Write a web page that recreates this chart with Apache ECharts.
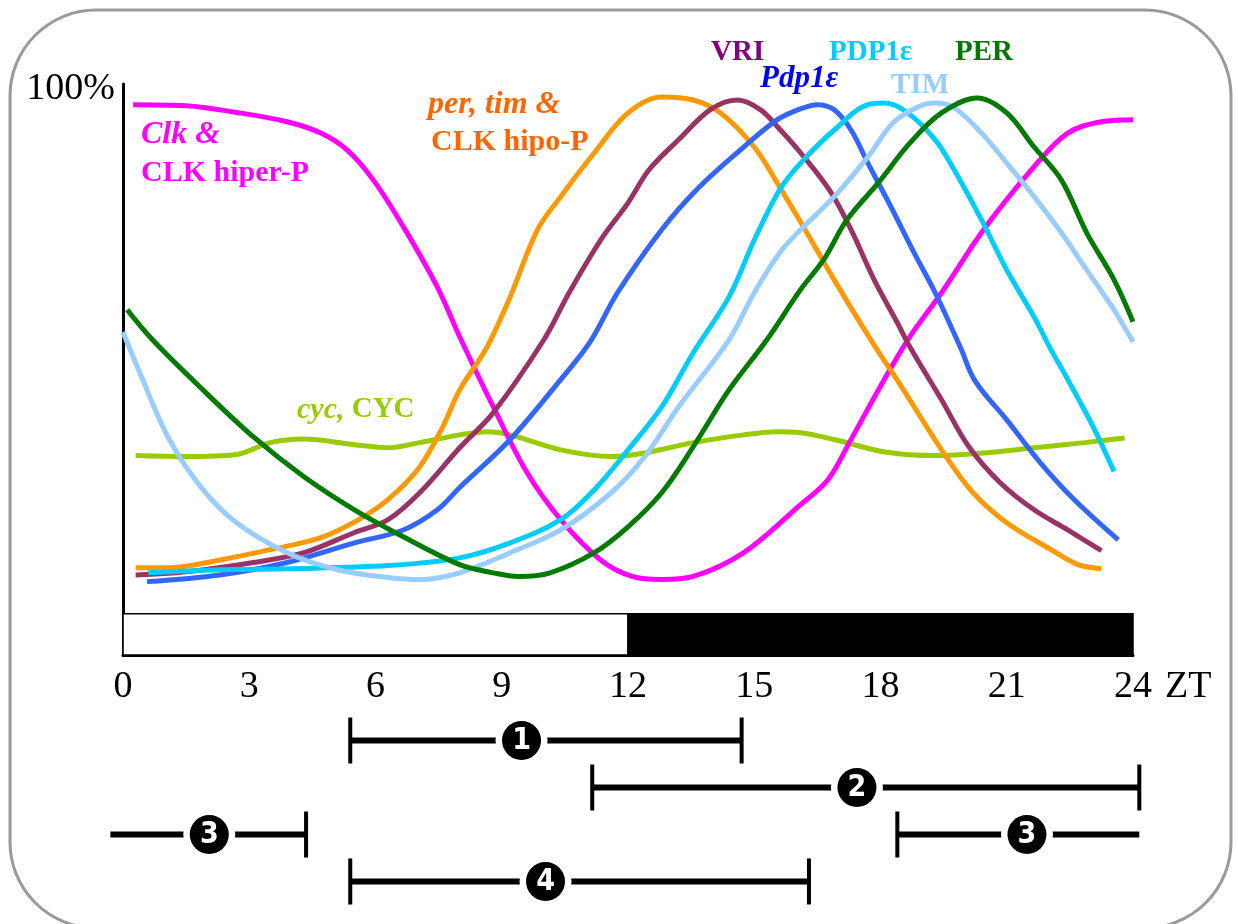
<!DOCTYPE html>
<html>
<head>
<meta charset="utf-8">
<script src="https://cdn.jsdelivr.net/npm/echarts@6/dist/echarts.min.js"></script>
<style>
  html, body { margin: 0; padding: 0; background: #fff; }
  #chart { width: 1238px; height: 924px; }
</style>
</head>
<body>
<div id="chart"></div>
<script>
// Relative levels (% of peak) over the day, [ZT hour, level]
const hourTicks = [0, 3, 6, 9, 12, 15, 18, 21, 24];
const levelTicks = [100];

const clkMrna = [[0.24,98.5],[1.5,98.3],[2.7,97.0],[3.9,95.2],[4.7,93.0],[5.33,89.7],[5.95,83.9],[6.66,74.9],[7.47,63.2],[8.0,53.6],[8.8,40.0],[9.6,27.3],[10.4,18.2],[11.35,10.4],[12.1,7.2],[12.8,6.6],[13.55,7.2],[14.75,11.8],[16.1,21.1],[16.75,25.9],[17.3,33.7],[17.95,43.3],[18.65,53.0],[19.45,62.1],[20.45,74.3],[21.65,86.5],[22.45,93.0],[23.25,95.2],[24.0,95.6]];
const perTimMrna = [[0.3,8.9],[1.1,8.9],[2.3,10.4],[3.5,12.4],[4.7,14.7],[5.6,18.2],[6.3,22.1],[7.05,28.4],[7.6,36.2],[8.0,43.3],[8.65,51.6],[9.2,61.3],[9.85,74.3],[10.4,80.7],[11.2,89.2],[12.0,96.9],[12.8,100],[13.55,99.4],[14.2,96.9],[15.0,90.3],[15.6,82.6],[16.1,75.8],[16.9,64.6],[17.8,52.6],[18.5,43.9],[19.5,31.1],[20.2,23.4],[21.0,17.6],[22.05,12.4],[22.7,9.5],[23.25,8.7]];
const vriLevel = [[0.3,7.5],[1.5,8.1],[3.1,9.9],[4.3,11.8],[5.5,15.7],[6.3,18.2],[7.05,23.4],[8.0,32.1],[8.8,38.9],[10.0,53.0],[10.6,62.1],[11.35,72.3],[12.0,79.5],[12.5,85.9],[13.2,91.7],[13.95,97.5],[14.6,99.4],[15.15,97.5],[15.6,93.8],[16.1,89.2],[16.8,81.8],[17.3,74.3],[17.85,64.6],[18.4,56.3],[18.7,51.6],[19.45,41.4],[20.1,32.3],[20.85,25.3],[21.65,20.1],[22.45,16.2],[23.25,12.2]];
const pdp1Mrna = [[0.57,6.2],[2.3,7.5],[3.9,9.9],[5.5,13.7],[6.66,16.2],[7.47,20.1],[8.0,24.4],[9.2,33.7],[10.4,45.3],[11.1,52.6],[11.75,62.1],[12.8,74.3],[13.7,82.6],[14.75,90.3],[15.55,95.6],[16.1,97.7],[16.5,98.5],[16.9,97.5],[17.3,93.6],[17.7,87.2],[18.25,78.7],[18.8,69.8],[19.3,62.1],[19.9,51.5],[20.25,45.0],[21.0,37.5],[21.8,29.2],[22.6,22.1],[23.65,14.3]];
const pdp1Protein = [[0.6,7.9],[2.3,8.5],[3.9,8.7],[6.3,9.3],[8.0,10.8],[9.2,13.7],[10.4,18.2],[11.2,24.0],[12.0,31.7],[12.8,40.0],[13.55,50.5],[14.4,61.3],[15.0,72.3],[15.6,82.0],[16.1,87.2],[16.9,93.6],[17.7,98.5],[18.1,98.8],[18.65,96.9],[19.3,91.7],[19.75,85.9],[20.4,76.2],[21.0,66.5],[21.65,57.4],[22.05,51.1],[22.45,45.3],[23.05,36.2],[23.55,27.5]];
const timProtein = [[0,54.5],[0.4,46.6],[1.1,33.7],[1.9,24.0],[2.7,17.6],[3.9,11.8],[5.1,8.5],[6.3,7.0],[7.05,6.6],[8.0,7.9],[9.2,11.8],[10.4,16.2],[11.6,23.4],[12.4,30.4],[13.2,40.0],[14.4,53.0],[15.0,62.1],[15.6,69.8],[16.1,74.3],[16.9,80.7],[17.7,88.4],[18.3,95.0],[18.9,98.1],[19.3,98.8],[19.75,97.9],[20.4,93.0],[21.0,87.2],[21.65,80.7],[22.3,73.7],[22.85,67.1],[23.5,59.4],[24.0,52.6]];
const perProtein = [[0.1,58.8],[0.7,53.0],[1.9,43.3],[3.1,34.2],[4.3,26.5],[5.5,20.1],[6.66,14.9],[8.0,9.5],[8.8,7.9],[9.4,7.2],[10.15,7.9],[11.2,11.8],[12.0,16.8],[12.8,23.4],[13.55,32.3],[14.4,43.3],[15.3,53.0],[16.1,62.7],[16.65,68.5],[17.2,76.2],[17.95,83.4],[18.7,91.1],[19.45,96.9],[20.3,99.8],[21.0,96.9],[21.65,90.3],[22.3,83.9],[22.9,73.7],[23.55,64.6],[24.0,56.5]];
const cycLevel = [[0.3,30.6],[1.5,30.4],[2.7,30.8],[3.5,33.1],[4.3,33.8],[5.5,32.7],[6.3,32.1],[7.05,33.1],[8.0,34.6],[8.65,35.2],[9.2,34.6],[10.4,31.7],[11.6,30.4],[12.4,31.1],[13.55,33.1],[14.75,34.6],[15.55,35.2],[16.1,35.0],[16.9,33.7],[18.1,31.3],[19.3,30.6],[20.45,31.1],[21.65,32.1],[22.85,33.1],[23.8,34.0]];

// Light / dark phases (ZT hours)
const lightPhase = [0, 12];
const darkPhase = [12, 24];

// Numbered time windows below the axis
const windowRows  = [0, 1, 2, 2, 3];
const windowFrom  = [5.4, 11.15, -0.3, 18.4, 5.4];
const windowTo    = [14.7, 24.15, 4.35, 24.15, 16.3];
const windowMark  = [9.47, 17.44, 2.05, 21.48, 10.04];
const windowLabel = ['1', '2', '3', '3', '4'];
const windowTicks = [[true, true], [true, true], [false, true], [true, false], [true, true]];

const serif = "'Liberation Serif', 'Times New Roman', serif";

const curves = [
  { name: 'cyc, CYC', data: cycLevel, color: '#99cc00' },
  { name: 'Clk', data: clkMrna, color: '#ff00ff' },
  { name: 'per, tim', data: perTimMrna, color: '#ff9900' },
  { name: 'VRI', data: vriLevel, color: '#993366' },
  { name: 'Pdp1e', data: pdp1Mrna, color: '#3366ff' },
  { name: 'PDP1e', data: pdp1Protein, color: '#00ccff' },
  { name: 'TIM', data: timProtein, color: '#99ccff' },
  { name: 'PER', data: perProtein, color: '#007a00' }
];

const chart = echarts.init(document.getElementById('chart'));

const lineSeries = curves.map((c, i) => ({
  type: 'line',
  name: c.name,
  data: c.data,
  smooth: 0.35,
  showSymbol: false,
  silent: true,
  z: 3 + i,
  lineStyle: { color: c.color, width: 5 },
  markArea: i === 0 ? {
    silent: true,
    data: [
      [{ xAxis: lightPhase[0], yAxis: -8, itemStyle: { color: '#fff', borderColor: '#000', borderWidth: 1.5 } },
       { xAxis: lightPhase[1], yAxis: 0 }],
      [{ xAxis: darkPhase[0], yAxis: -8, itemStyle: { color: '#000', borderColor: '#000', borderWidth: 1.5 } },
       { xAxis: darkPhase[1], yAxis: 0 }]
    ]
  } : undefined
}));

const windowSeries = {
  type: 'custom',
  xAxisIndex: 1,
  yAxisIndex: 1,
  clip: false,
  silent: true,
  data: windowRows.map((r, i) => [windowFrom[i], windowTo[i], r, windowMark[i]]),
  encode: { x: [0, 1, 3], y: 2 },
  renderItem(params, api) {
    const i = params.dataIndex;
    const a = api.coord([api.value(0), api.value(2)]);
    const b = api.coord([api.value(1), api.value(2)]);
    const c = api.coord([api.value(3), api.value(2)]);
    const y = a[1];
    const kids = [
      { type: 'line', shape: { x1: a[0], y1: y, x2: b[0], y2: y }, style: { stroke: '#000', lineWidth: 6 } }
    ];
    if (windowTicks[i][0]) kids.push({ type: 'line', shape: { x1: a[0], y1: y - 23, x2: a[0], y2: y + 23 }, style: { stroke: '#000', lineWidth: 4 } });
    if (windowTicks[i][1]) kids.push({ type: 'line', shape: { x1: b[0], y1: y - 23, x2: b[0], y2: y + 23 }, style: { stroke: '#000', lineWidth: 4 } });
    kids.push({ type: 'circle', shape: { cx: c[0], cy: y, r: 26 }, style: { fill: '#fff' } });
    kids.push({ type: 'circle', shape: { cx: c[0], cy: y, r: 19.5 }, style: { fill: '#000' } });
    kids.push({
      type: 'text',
      style: {
        text: windowLabel[i], x: c[0], y: y + 1, align: 'center', verticalAlign: 'middle',
        fill: '#fff', font: "bold 30px 'DejaVu Sans Condensed', 'DejaVu Sans', sans-serif"
      }
    });
    return { type: 'group', children: kids };
  }
};

// Curve names drawn beside their peaks
const nameFont = (size, style) => ({ fontFamily: serif, fontSize: size, fontWeight: 'bold', fontStyle: style || 'normal' });
const nameLabels = [
  { text: 'Clk &', x: 141, y: 135, fill: '#ff00ff', italic: true, size: 32 },
  { text: 'CLK hiper-P', x: 141, y: 173, fill: '#ff00ff', size: 30 },
  { text: 'per, tim &', x: 428, y: 105, fill: '#ff6600', italic: true, size: 32 },
  { text: 'CLK hipo-P', x: 431, y: 142, fill: '#ff6600', size: 30 },
  { text: 'VRI', x: 711, y: 53, fill: '#800080', size: 29 },
  { text: 'Pdp1ε', x: 760, y: 79, fill: '#0000ee', italic: true, size: 31 },
  { text: 'PDP1ε', x: 829, y: 53, fill: '#00ccff', size: 29 },
  { text: 'TIM', x: 891, y: 86, fill: '#99ccff', size: 29 },
  { text: 'PER', x: 955, y: 53, fill: '#007700', size: 29 }
];

const graphics = [
  {
    type: 'rect', silent: true, z: -10,
    shape: { x: 10, y: 10, width: 1221, height: 918, r: 86 },
    style: { fill: 'none', stroke: '#9a9a9a', lineWidth: 3 }
  }
].concat(nameLabels.map(l => ({
  type: 'text', silent: true, z: 50,
  style: Object.assign({ text: l.text, x: l.x, y: l.y, fill: l.fill, align: 'left', verticalAlign: 'middle' },
    nameFont(l.size, l.italic ? 'italic' : 'normal'))
}))).concat([{
  type: 'text', silent: true, z: 50,
  style: {
    text: '{i|cyc,} CYC', x: 297, y: 410, align: 'left', verticalAlign: 'middle', fill: '#99cc00',
    fontFamily: serif, fontSize: 29, fontWeight: 'bold',
    rich: { i: { fontFamily: serif, fontSize: 30, fontWeight: 'bold', fontStyle: 'italic', fill: '#99cc00' } }
  }
}]);

chart.setOption({
  animation: false,
  backgroundColor: '#fff',
  grid: [
    { left: 123, right: 105, top: 84, bottom: 269 },
    { left: 123, right: 105, top: 717, height: 188 }
  ],
  xAxis: [
    {
      type: 'value', gridIndex: 0, min: 0, max: 24, interval: 3,
      name: 'ZT', nameLocation: 'end', nameGap: 32,
      nameTextStyle: { fontFamily: serif, fontSize: 38, color: '#000', verticalAlign: 'top', padding: [13, 0, 0, 0] },
      axisLine: { show: true, onZero: false, lineStyle: { color: '#000', width: 3 } },
      axisTick: { show: false },
      splitLine: { show: false },
      axisLabel: { customValues: hourTicks, fontFamily: serif, fontSize: 38, color: '#000', margin: 13 }
    },
    { type: 'value', gridIndex: 1, min: 0, max: 24, show: false }
  ],
  yAxis: [
    {
      type: 'value', gridIndex: 0, min: -8, max: 102.5,
      axisLine: { show: true, lineStyle: { color: '#000', width: 3 } },
      axisTick: { show: false },
      splitLine: { show: false },
      axisLabel: {
        customValues: levelTicks, formatter: v => v + '%',
        fontFamily: serif, fontSize: 38, color: '#000', margin: 8,
        verticalAlign: 'bottom', lineHeight: 16
      }
    },
    { type: 'category', gridIndex: 1, data: ['1', '2', '3', '4'], inverse: true, show: false }
  ],
  graphic: graphics,
  series: lineSeries.concat([windowSeries])
});
</script>
</body>
</html>
